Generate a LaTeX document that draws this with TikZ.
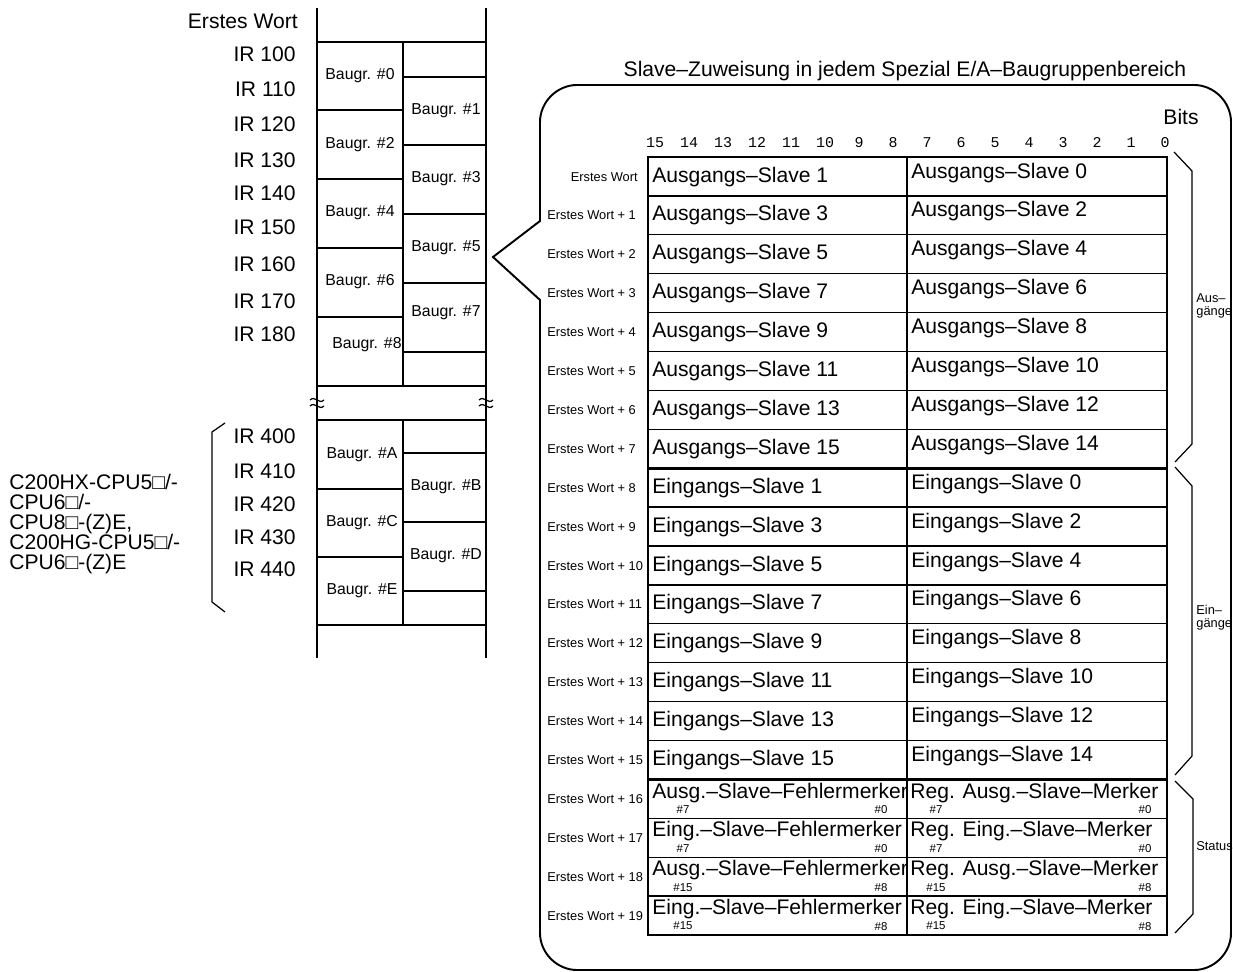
\documentclass[tikz,border=0pt]{standalone}
\usepackage{fontspec}
\setmainfont{Liberation Sans}
\setmonofont{Liberation Mono}
\usepackage{tikz}

\begin{document}
\begin{tikzpicture}[x=0.02cm, y=-0.02cm,
  frame/.style={line width=1.1pt},
  rule/.style={line width=0.7pt},
  divide/.style={line width=1.5pt},
  ir/.style={font=\fontsize{12}{12}\selectfont, inner sep=0pt, anchor=mid east},
  mod/.style={font=\fontsize{9}{9}\selectfont, inner sep=0pt},
  cell/.style={font=\fontsize{12}{12}\selectfont, inner sep=0pt, anchor=mid west},
  word/.style={font=\fontsize{7.3}{7.6}\selectfont, inner sep=0pt},
  bit/.style={font=\ttfamily\fontsize{8.5}{8.5}\selectfont, inner sep=0pt},
  idx/.style={font=\fontsize{6.5}{6.5}\selectfont, inner sep=0pt},
  brc/.style={line width=0.7pt}]
\useasboundingbox (0,0) rectangle (1233,972);
% IR area
\node[ir] (ew) at (298,24) {Erstes Wort};
\foreach \n/\y in {100/57,110/92,120/127,130/163,140/196,150/230,160/267,170/304,180/337,400/439,410/474,420/507,430/540,440/572}
  \node[ir] (ir\n) at (296,\y) {IR \n};
\draw[frame] (317,8) -- (317,658) (486,8) -- (486,658);
\draw[rule] (317,42) -- (486,42) (317,386) -- (486,386) (317,420) -- (486,420) (317,625) -- (486,625)
  (403,42) -- (403,386) (403,420) -- (403,625);
\foreach \y in {110,179,248,317,489,557} \draw[rule] (317,\y) -- (403,\y);
\foreach \y in {77,145,214,283,352,453,522,591} \draw[rule] (403,\y) -- (486,\y);
\foreach \t/\x/\y in {0/360/76,2/360/145,4/360/213,6/360/282,8/367/345,A/362/455,C/362/523,E/362/591,1/446/111,3/446/179,5/446/248,7/446/313,B/446/487,D/446/556}
  \node[mod] (m\t) at (\x,\y) {Baugr. \#\t};
\foreach \x in {317,486} \foreach \y in {400,406}
  \draw[rule] (\x-7,\y) .. controls (\x-2,\y-5) and (\x+2,\y+5) .. (\x+7,\y);
\draw[rule] (225,423) -- (212,432) -- (212,602) -- (225,612);
\node[font=\fontsize{12}{11.3}\selectfont, align=left, anchor=west, inner sep=0pt] (cpu) at (9,524)
  {C200HX-CPU5□/-\\CPU6□/-\\CPU8□-(Z)E,\\C200HG-CPU5□/-\\CPU6□-(Z)E};
% slave area
\draw[frame] (540,221) -- (540,122) .. controls (540,102) and (557,85) .. (577,85) -- (1194,85)
  .. controls (1214,85) and (1231,102) .. (1231,122) -- (1231,933)
  .. controls (1231,953) and (1214,970) .. (1194,970) -- (577,970)
  .. controls (557,970) and (540,953) .. (540,933) -- (540,300) -- (493,257) -- cycle;
\node[font=\fontsize{12}{12}\selectfont, inner sep=0pt] (title) at (905,71) {Slave–Zuweisung in jedem Spezial E/A–Baugruppenbereich};
\node[font=\fontsize{12}{12}\selectfont, inner sep=0pt] (bits) at (1181,117) {Bits};
\foreach \b in {0,...,15} \node[bit] (b\b) at ({655+(15-\b)*34},143) {\b};
\draw[frame] (648,157) rectangle (1167,935);
\draw[rule] (907,157) -- (907,935);
\foreach \i in {1,...,19} \draw[rule] (648,{157+\i*38.9}) -- (1167,{157+\i*38.9});
\draw[divide] (648,{157+8*38.9}) -- (1167,{157+8*38.9}) (648,{157+16*38.9}) -- (1167,{157+16*38.9});
\node[word, anchor=mid east] (w0) at (638,176.5) {Erstes Wort};
\foreach \i in {1,...,19} \node[word, anchor=mid west] (w\i) at (547,{157+(\i+0.5)*38.9}) {Erstes Wort + \i};
\foreach \i in {0,...,7} {
  \pgfmathtruncatemacro\a{2*\i+1} \pgfmathtruncatemacro\c{2*\i}
  \node[cell] (o\a) at (652,{157+(\i+0.5)*38.9+1}) {Ausgangs–Slave \a};
  \node[cell] (o\c) at (911,{157+(\i+0.5)*38.9-3}) {Ausgangs–Slave \c};
  \node[cell] (e\a) at (652,{157+(\i+8.5)*38.9+1}) {Eingangs–Slave \a};
  \node[cell] (e\c) at (911,{157+(\i+8.5)*38.9-3}) {Eingangs–Slave \c};
}
\foreach \i/\l/\hi/\lo in {16/Ausg./7/0,17/Eing./7/0,18/Ausg./15/8,19/Eing./15/8} {
  \node[cell] (f\i) at (652,{157+\i*38.9+14}) {\l–Slave–Fehlermerker};
  \node[cell] (r\i) at (910,{157+\i*38.9+14}) {Reg. \l–Slave–Merker};
  \node[idx] (fh\i) at (683,{157+\i*38.9+30}) {\#\hi};
  \node[idx] (fl\i) at (881,{157+\i*38.9+30}) {\#\lo};
  \node[idx] (rh\i) at (936,{157+\i*38.9+30}) {\#\hi};
  \node[idx] (rl\i) at (1145,{157+\i*38.9+30}) {\#\lo};
}
\draw[brc] (1174,152) -- (1192,171) -- (1192,444) -- (1175,462);
\draw[brc] (1175,467) -- (1192,486) -- (1192,756) -- (1175,775);
\draw[brc] (1175,781) -- (1193,799) -- (1193,914) -- (1175,933);
\node[word, anchor=west, align=left] (aus) at (1196,306) {Aus–\\gänge};
\node[word, anchor=west, align=left] (ein) at (1196,618) {Ein–\\gänge};
\node[word, anchor=west] (st) at (1196,846) {Status};
\end{tikzpicture}
\end{document}
